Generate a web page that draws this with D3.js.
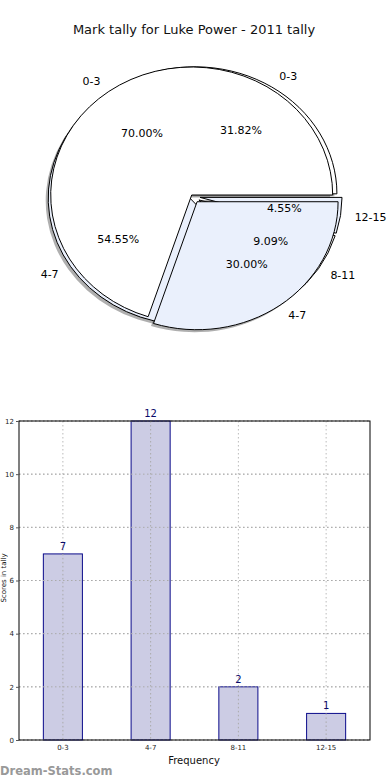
<!DOCTYPE html>
<html><head><meta charset="utf-8">
<script src="https://cdn.jsdelivr.net/npm/d3@7"></script>
<style>body{margin:0;background:#fff;}svg{display:block;font-family:"DejaVu Sans",sans-serif;}</style>
</head><body><svg id="c" width="390" height="780"></svg>
<script>
const title = "Mark tally for Luke Power - 2011 tally";
const categories = ["0-3","4-7","8-11","12-15"];
const counts = [7,12,2,1];
const pieBLabels = ["0-3","4-7"];
const pieBValues = [70,30];
const yTicks = [0,2,4,6,8,10,12];
const pieColors = ["#ffffff","#eaf0fc"];

const svg = d3.select("#c");
svg.append("text").attr("x",194).attr("y",34).attr("text-anchor","middle")
  .attr("font-size",13).attr("fill","#111").text(title);

// ---------- pies ----------
const pieA = {cx:193, cy:196.5, rx:142, ry:127, values:counts, labels:categories,
  explode:[0.025,0.025,0.05,0.05]};
const pieB = {cx:191.7, cy:195, rx:141, ry:128, values:pieBValues, labels:pieBLabels,
  explode:[0,0.065]};
const pieGen = d3.pie().sort(null).value(d=>d).startAngle(Math.PI/2).endAngle(Math.PI/2-2*Math.PI);
const arc = d3.arc().innerRadius(0).outerRadius(1);

function prep(p){
  const total = d3.sum(p.values);
  return pieGen(p.values).map((a,i)=>{
    const mid = (a.startAngle+a.endAngle)/2;
    const th = Math.PI/2 - mid;
    const dx = p.explode[i]*p.rx*Math.cos(th), dy = -p.explode[i]*p.ry*Math.sin(th);
    return {a, i, th, cx:p.cx+dx, cy:p.cy+dy, pct:(p.values[i]/total*100).toFixed(2)+"%", p};
  });
}
const A = prep(pieA), B = prep(pieB);
const gShadow = svg.append("g");
[...A,...B].forEach(w=>{
  gShadow.append("path").attr("d",arc(w.a))
    .attr("transform",`translate(${w.cx-2.5},${w.cy+2.5}) scale(${w.p.rx},${w.p.ry})`)
    .attr("fill","#4d4d4d").attr("opacity",0.45).attr("stroke","none");
});
function drawWedges(ws){
  ws.forEach(w=>{
    svg.append("path").attr("d",arc(w.a))
      .attr("transform",`translate(${w.cx},${w.cy}) scale(${w.p.rx},${w.p.ry})`)
      .attr("fill",pieColors[w.i%2]).attr("stroke","#000").attr("stroke-width",1)
      .attr("vector-effect","non-scaling-stroke");
  });
}
drawWedges(A); drawWedges(B);
function drawLabels(ws){
  ws.forEach(w=>{
    const c=Math.cos(w.th), s=Math.sin(w.th);
    svg.append("text").attr("x",w.cx+1.1*w.p.rx*c).attr("y",w.cy-1.1*w.p.ry*s)
      .attr("dy","0.35em").attr("text-anchor",c>0?"start":"end")
      .attr("font-size",11).attr("fill","#000").text(w.p.labels[w.i]);
    svg.append("text").attr("x",w.cx+0.6*w.p.rx*c).attr("y",w.cy-0.6*w.p.ry*s)
      .attr("dy","0.35em").attr("text-anchor","middle")
      .attr("font-size",11).attr("fill","#000").text(w.pct);
  });
}
drawLabels(A); drawLabels(B);

// ---------- bar chart ----------
const L=19,R=370,T=421,Bm=740;
const x = d3.scaleBand().domain(categories).range([L,R]).padding(0);
const y = d3.scaleLinear().domain([0,12]).range([Bm,T]);
const bw = x.bandwidth()*0.445;
const g = svg.append("g");
g.selectAll(".gy").data(yTicks).join("line")
  .attr("x1",L).attr("x2",R).attr("y1",d=>y(d)).attr("y2",d=>y(d))
  .attr("stroke","#bbb").attr("stroke-dasharray","1.5,2.5");
g.selectAll(".gx").data(categories).join("line")
  .attr("x1",d=>x(d)+x.bandwidth()/2).attr("x2",d=>x(d)+x.bandwidth()/2)
  .attr("y1",T).attr("y2",Bm).attr("stroke","#bbb").attr("stroke-dasharray","1.5,2.5");
g.selectAll(".bar").data(counts).join("rect")
  .attr("x",(d,i)=>x(categories[i])+x.bandwidth()/2-bw/2).attr("width",bw)
  .attr("y",d=>y(d)).attr("height",d=>Bm-y(d))
  .attr("fill","#cccce4")
  .attr("stroke","#0a0a8a").attr("stroke-width",1);
g.selectAll(".gx2").data(categories).join("line")
  .attr("x1",d=>x(d)+x.bandwidth()/2).attr("x2",d=>x(d)+x.bandwidth()/2)
  .attr("y1",(d,i)=>y(counts[i])).attr("y2",Bm).attr("stroke","#aaa").attr("stroke-dasharray","1.5,2.5");
g.selectAll(".gy2").data(yTicks).join("line")
  .attr("x1",L).attr("x2",R).attr("y1",d=>y(d)).attr("y2",d=>y(d))
  .attr("stroke","#aaa").attr("stroke-dasharray","1.5,2.5");
g.selectAll(".vl").data(counts).join("text")
  .attr("x",(d,i)=>x(categories[i])+x.bandwidth()/2).attr("y",d=>y(d)-4)
  .attr("text-anchor","middle").attr("font-size",10).attr("fill","#0a0a6a").text(d=>d);
g.append("rect").attr("x",L).attr("y",T).attr("width",R-L).attr("height",Bm-T)
  .attr("fill","none").attr("stroke","#000").attr("stroke-width",1);
const ya = d3.axisLeft(y).tickValues(yTicks).tickSize(3).tickPadding(2);
const yg = svg.append("g").attr("transform",`translate(${L},0)`).call(ya);
yg.select(".domain").remove();
yg.selectAll("text").attr("font-size",7).attr("fill","#222").attr("font-family","DejaVu Sans");
yg.selectAll("line").attr("stroke","#555");
const xa = d3.axisBottom(x).tickSize(0).tickPadding(5);
const xg = svg.append("g").attr("transform",`translate(0,${Bm})`).call(xa);
xg.select(".domain").remove();
xg.selectAll("text").attr("font-size",7).attr("fill","#222").attr("font-family","DejaVu Sans");
svg.append("text").attr("x",194).attr("y",764).attr("text-anchor","middle")
  .attr("font-size",10).attr("fill","#111").text("Frequency");
svg.append("text").attr("transform","translate(6,578) rotate(-90)").attr("text-anchor","middle")
  .attr("font-size",7).attr("fill","#111").text("Scores in tally");
svg.append("text").attr("x",0).attr("y",775).attr("font-size",11.5)
  .attr("fill","#999").attr("font-weight","600").text("Dream-Stats.com");
</script></body></html>
